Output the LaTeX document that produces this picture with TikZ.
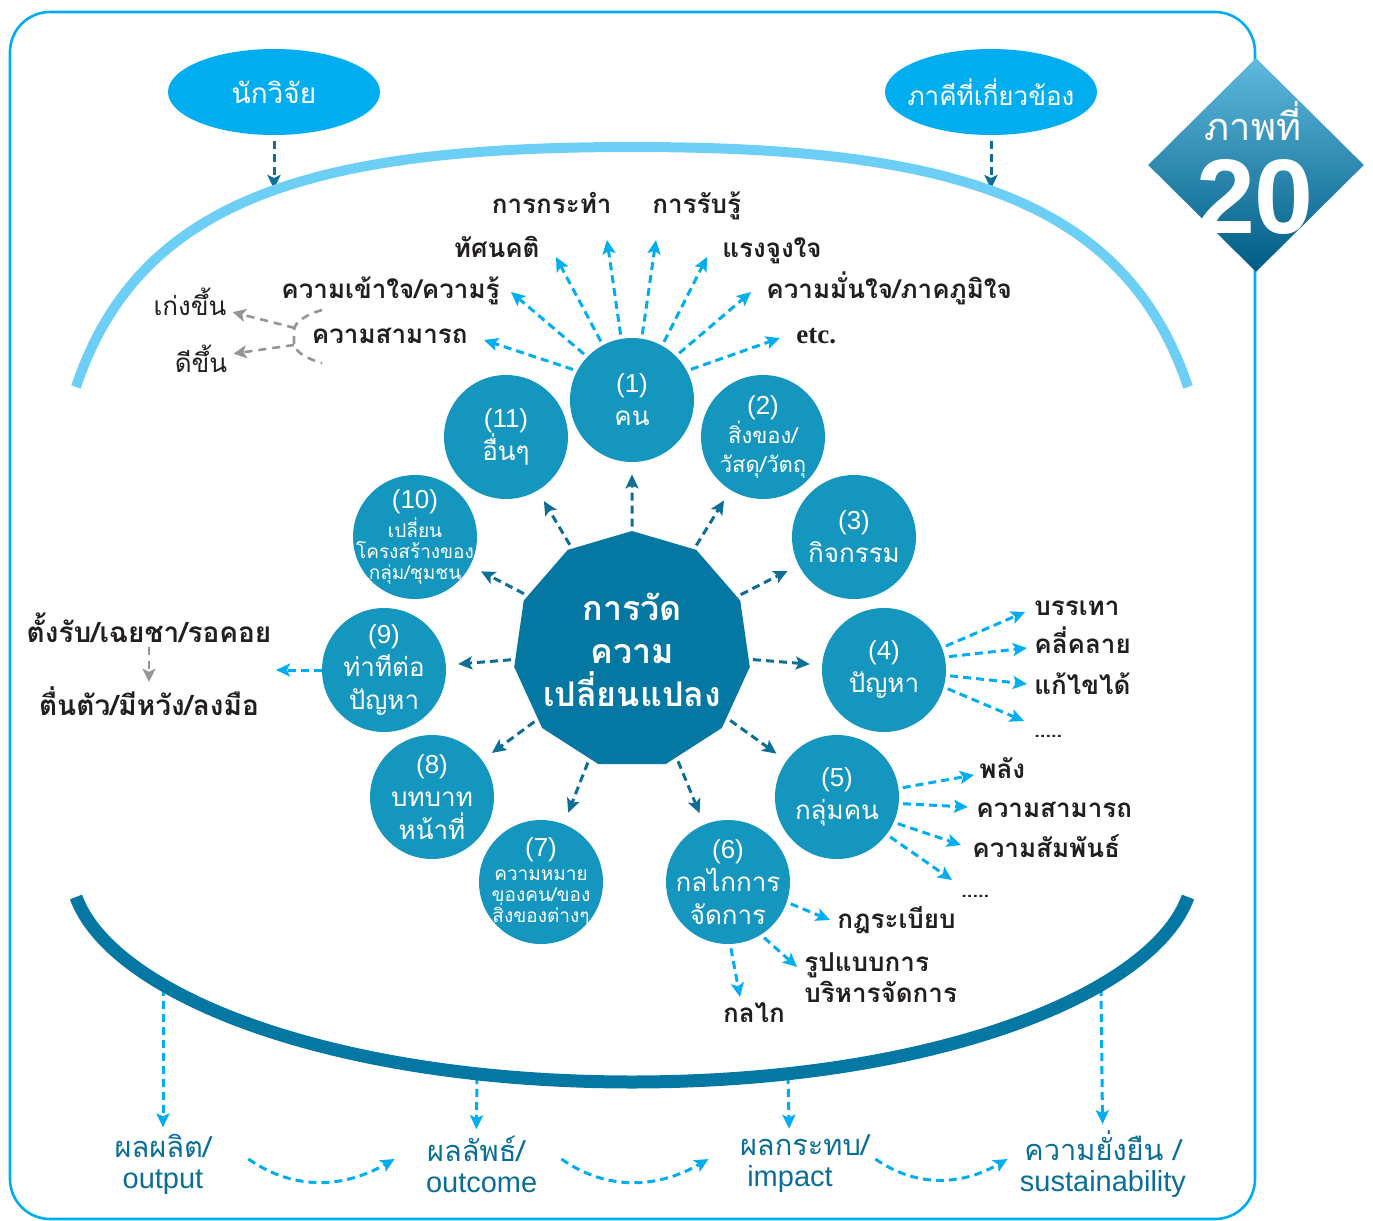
\documentclass[tikz,border=0pt]{standalone}
\usepackage{fontspec}
\usepackage{xcolor}
\usepackage{tikz}
\usetikzlibrary{shapes.geometric, arrows.meta}

\newfontfamily\thaifont[Script=Thai]{Loma}
\newfontfamily\numfont{Liberation Sans}
\newfontfamily\etcfont{Liberation Serif}

\definecolor{frameblue}{RGB}{0,174,239}
\definecolor{skyarc}{RGB}{109,207,246}
\definecolor{bubbleblue}{RGB}{20,150,190}
\definecolor{hubblue}{RGB}{4,119,163}
\definecolor{darkarrow}{RGB}{14,110,150}
\definecolor{cyanarrow}{RGB}{0,174,239}
\definecolor{labelink}{RGB}{35,31,32}
\definecolor{softgray}{RGB}{147,149,152}
\definecolor{resultteal}{RGB}{10,110,150}
\definecolor{diamondtop}{RGB}{95,185,222}
\definecolor{diamondmid}{RGB}{8,138,186}
\definecolor{diamondbot}{RGB}{0,92,132}

\begin{document}
\begin{tikzpicture}[x=0.5pt, y=-0.5pt,
    bubble/.style={circle, fill=bubbleblue, text=white, minimum size=62pt, inner sep=-8pt, align=center, font=\thaifont\fontsize{13}{16.5}\selectfont},
    hubshape/.style={regular polygon, regular polygon sides=11, fill=hubblue, text=white, minimum size=119pt, inner sep=-14pt, align=center, font=\thaifont\bfseries\fontsize{17}{21.5}\selectfont},
    party/.style={ellipse, fill=frameblue, text=white, minimum width=106pt, minimum height=43pt, inner xsep=-6pt, inner ysep=0pt, font=\thaifont\fontsize{14}{17}\selectfont},
    lab/.style={text=labelink, inner sep=0pt, anchor=base, font=\thaifont\bfseries\fontsize{13}{15.5}\selectfont},
    softlab/.style={text=labelink, inner sep=0pt, anchor=base, font=\thaifont\fontsize{13}{16}\selectfont},
    result/.style={text=resultteal, inner sep=0pt, align=center, text width=50pt, font=\thaifont\fontsize{14.5}{15.5}\selectfont},
    darr/.style={darkarrow, line width=1.5pt, dash pattern=on 4pt off 2.5pt, -{Stealth[length=7pt, width=6.5pt, inset=1.5pt]}},
    carr/.style={cyanarrow, line width=1.5pt, dash pattern=on 4pt off 2.5pt, -{Stealth[length=7pt, width=6.5pt, inset=1.5pt]}},
    garr/.style={softgray, line width=1.3pt, dash pattern=on 4pt off 3pt, -{Stealth[length=6.5pt, width=6.5pt, inset=1.5pt]}},
]
    \useasboundingbox (0,0) rectangle (1373,1221);

    % frame and figure badge
    \draw[frameblue, line width=1.3pt, rounded corners=20pt] (10,12) rectangle (1255,1219);
    \node[diamond, minimum width=108pt, minimum height=107pt, inner sep=0pt, top color=diamondtop, middle color=diamondmid, bottom color=diamondbot] (badge) at (1256,165) {};
    \node[text=white, inner sep=0pt, anchor=base, font=\thaifont\fontsize{19}{20}\selectfont] (badgeword) at (1253,140) {ภาพที่};
    \node[text=white, inner sep=0pt, anchor=base, font=\numfont\bfseries\fontsize{53}{53}\selectfont] (badgenum) at (1255,233) {20};

    % researcher and partners
    \node[party] (res) at (274,92) {นักวิจัย};
    \node[party, font=\thaifont\fontsize{13}{16}\selectfont] (partner) at (991,92) {ภาคีที่เกี่ยวข้อง};
    \coordinate (resin) at (274,189);
    \coordinate (partnerin) at (991,189);
    \draw[darr, shorten <=3pt] (res) -- (resin);
    \draw[darr, shorten <=3pt] (partner) -- (partnerin);

    % arrows down to the results (start hidden under the lower arc)
    \coordinate (arcA) at (163,988);
    \coordinate (arcB) at (477,1076);
    \coordinate (arcC) at (788,1076);
    \coordinate (arcD) at (1101,988);
    \node[result] (output) at (163,1164) {ผลผลิต/\\{\numfont output}};
    \node[result] (outcome) at (476,1164) {ผลลัพธ์/\\{\numfont outcome}};
    \node[result] (impact) at (790,1164) {ผลกระทบ/\\{\numfont impact}};
    \node[result, text width=90pt] (sustain) at (1103,1164) {ความยั่งยืน /\\{\numfont sustainability}};
    \draw[carr, shorten >=3pt] (arcA) -- (output);
    \draw[carr, shorten >=3pt] (arcB) -- (outcome);
    \draw[carr, shorten >=3pt] (arcC) -- (impact);
    \draw[carr, shorten >=3pt] (arcD) -- (sustain);
    \draw[carr] ([xshift=17.5pt, yshift=2.5pt]output.east) to[out=-35, in=210] ([xshift=-15.5pt, yshift=2.5pt]outcome.west);
    \draw[carr] ([xshift=17.5pt, yshift=2.5pt]outcome.east) to[out=-35, in=210] ([xshift=-15.5pt, yshift=2.5pt]impact.west);
    \draw[carr] ([xshift=17.5pt, yshift=2.5pt]impact.east) to[out=-35, in=210] ([xshift=-2.5pt, yshift=2.5pt]sustain.west);

    % the two arcs
    \draw[skyarc, line width=5pt] (76,387) .. controls (140,195) and (320,147) .. (632,147) .. controls (944,147) and (1124,195) .. (1188,387);
    \draw[hubblue, line width=6.5pt] (76,897) .. controls (111,994) and (330,1082) .. (632,1082) .. controls (934,1082) and (1153,994) .. (1188,897);

    % hub and its eleven bubbles
    \node[hubshape] (change) at (632,650) {การวัด\\ความ\\เปลี่ยนแปลง};
    \node[bubble] (c1) at (632,400) {{\numfont (1)}\\คน};
    \node[bubble, font=\thaifont\fontsize{11}{14.5}\selectfont] (c2) at (763,437) {{\numfont\fontsize{13}{14}\selectfont (2)}\\สิ่งของ/\\วัสดุ/วัตถุ};
    \node[bubble] (c3) at (854,537) {{\numfont (3)}\\กิจกรรม};
    \node[bubble] (c4) at (884,670) {{\numfont (4)}\\ปัญหา};
    \node[bubble] (c5) at (837,797) {{\numfont (5)}\\กลุ่มคน};
    \node[bubble] (c6) at (728,882) {{\numfont (6)}\\กลไกการ\\จัดการ};
    \node[bubble, font=\thaifont\fontsize{9.5}{10.5}\selectfont] (c7) at (541,882) {{\numfont\fontsize{13}{14}\selectfont (7)}\\[1.5pt]ความหมาย\\ของคน/ของ\\สิ่งของต่างๆ};
    \node[bubble] (c8) at (432,797) {{\numfont (8)}\\บทบาท\\หน้าที่};
    \node[bubble] (c9) at (384,670) {{\numfont (9)}\\ท่าทีต่อ\\ปัญหา};
    \node[bubble, font=\thaifont\fontsize{9.5}{10.5}\selectfont] (c10) at (415,537) {{\numfont\fontsize{13}{14}\selectfont (10)}\\[1pt]เปลี่ยน\\โครงสร้างของ\\กลุ่ม/ชุมชน};
    \node[bubble] (c11) at (506,437) {{\numfont (11)}\\อื่นๆ};

    \draw[darr, shorten <=2pt, shorten >=6pt] (change) -- (c1);
    \draw[darr, shorten <=2pt, shorten >=6pt] (change) -- (c2);
    \draw[darr, shorten <=2pt, shorten >=6pt] (change) -- (c3);
    \draw[darr, shorten <=2pt, shorten >=6pt] (change) -- (c4);
    \draw[darr, shorten <=2pt, shorten >=6pt] (change) -- (c5);
    \draw[darr, shorten <=2pt, shorten >=6pt] (change) -- (c6);
    \draw[darr, shorten <=2pt, shorten >=6pt] (change) -- (c7);
    \draw[darr, shorten <=2pt, shorten >=6pt] (change) -- (c8);
    \draw[darr, shorten <=2pt, shorten >=6pt] (change) -- (c9);
    \draw[darr, shorten <=2pt, shorten >=6pt] (change) -- (c10);
    \draw[darr, shorten <=2pt, shorten >=6pt] (change) -- (c11);

    % what changes in people (1)
    \node[lab, anchor=base east] (action) at (612,213) {การกระทำ};
    \node[lab, anchor=base west] (perceive) at (652,213) {การรับรู้};
    \node[lab, anchor=base east] (attitude) at (540,257) {ทัศนคติ};
    \node[lab, anchor=base west] (motive) at (722,257) {แรงจูงใจ};
    \node[lab, anchor=base east] (knowledge) at (500,298) {ความเข้าใจ/ความรู้};
    \node[lab, anchor=base west] (pride) at (766,298) {ความมั่นใจ/ภาคภูมิใจ};
    \node[lab, anchor=base east] (skill) at (468,343) {ความสามารถ};
    \node[lab, anchor=base west, font=\etcfont\bfseries\fontsize{13.5}{16}\selectfont] (etc) at (796,343) {etc.};
    \coordinate (tipSkill) at (484,340);
    \coordinate (tipKnow) at (511,292);
    \coordinate (tipAtt) at (556,257);
    \coordinate (tipAct) at (607,240);
    \coordinate (tipPerc) at (656,240);
    \coordinate (tipMot) at (707,257);
    \coordinate (tipPride) at (751,292);
    \coordinate (tipEtc) at (780,338);
    \draw[carr, shorten <=2pt] (c1.152) -- (tipSkill);
    \draw[carr, shorten <=2pt] (c1.136) -- (tipKnow);
    \draw[carr, shorten <=2pt] (c1.118) -- (tipAtt);
    \draw[carr, shorten <=2pt] (c1.100) -- (tipAct);
    \draw[carr, shorten <=2pt] (c1.81) -- (tipPerc);
    \draw[carr, shorten <=2pt] (c1.61) -- (tipMot);
    \draw[carr, shorten <=2pt] (c1.45) -- (tipPride);
    \draw[carr, shorten <=2pt] (c1.28) -- (tipEtc);

    % skill gets better
    \node[softlab] (better) at (190,315) {เก่งขึ้น};
    \node[softlab] (good) at (201,372) {ดีขึ้น};
    \draw[softgray, line width=1.3pt, dash pattern=on 4pt off 3pt] (322,310) .. controls (305,315) and (295,322) .. (294,330) -- (294,343) .. controls (295,352) and (305,358) .. (322,363);
    \coordinate (forkA) at (295,328);
    \coordinate (forkB) at (294,345);
    \draw[garr, shorten >=3pt] (forkA) -- (better);
    \draw[garr, shorten >=3pt] (forkB) -- (good);

    % problem (4)
    \node[lab, anchor=base west] (ease) at (1034,615) {บรรเทา};
    \node[lab, anchor=base west] (unravel) at (1034,653) {คลี่คลาย};
    \node[lab, anchor=base west] (solved) at (1034,694) {แก้ไขได้};
    \node[lab, anchor=base west, font=\thaifont\bfseries\fontsize{10}{12}\selectfont] (moreA) at (1034,737) {.....};
    \coordinate (tipEase) at (1025,612);
    \coordinate (tipUnravel) at (1027,648);
    \coordinate (tipSolved) at (1027,684);
    \coordinate (tipMoreA) at (1024,721);
    \draw[carr, shorten <=2pt] (c4.21) -- (tipEase);
    \draw[carr, shorten <=2pt] (c4.12) -- (tipUnravel);
    \draw[carr, shorten <=2pt] (c4.-5) -- (tipSolved);
    \draw[carr, shorten <=2pt] (c4.-16) -- (tipMoreA);

    % group (5)
    \node[lab, anchor=base west] (power) at (979,778) {พลัง};
    \node[lab, anchor=base west] (ability) at (976,817) {ความสามารถ};
    \node[lab, anchor=base west] (bond) at (972,857) {ความสัมพันธ์};
    \node[lab, anchor=base west, font=\thaifont\bfseries\fontsize{10}{12}\selectfont] (moreB) at (961,897) {.....};
    \coordinate (tipPower) at (974,775);
    \coordinate (tipAbility) at (968,807);
    \coordinate (tipBond) at (961,845);
    \coordinate (tipMoreB) at (952,880);
    \draw[carr, shorten <=2pt] (c5.8) -- (tipPower);
    \draw[carr, shorten <=2pt] (c5.-6) -- (tipAbility);
    \draw[carr, shorten <=2pt] (c5.-24) -- (tipBond);
    \draw[carr, shorten <=2pt] (c5.-37) -- (tipMoreB);

    % mechanism (6)
    \node[lab, anchor=base west] (rules) at (837,928) {กฎระเบียบ};
    \node[lab, anchor=north west, align=left, font=\thaifont\bfseries\fontsize{13}{15.5}\selectfont] (admin) at (804,952) {รูปแบบการ\\บริหารจัดการ};
    \node[lab] (mech) at (754,1022) {กลไก};
    \coordinate (tipRules) at (830,920);
    \coordinate (tipAdmin) at (797,967);
    \coordinate (tipMech) at (740,997);
    \draw[carr, shorten <=2pt] (c6.-19) -- (tipRules);
    \draw[carr, shorten <=2pt] (c6.-58) -- (tipAdmin);
    \draw[carr, shorten <=2pt] (c6.-88) -- (tipMech);

    % stance (9)
    \node[lab, font=\thaifont\bfseries\fontsize{14}{17}\selectfont] (passive) at (149,642) {ตั้งรับ/เฉยชา/รอคอย};
    \node[lab, font=\thaifont\bfseries\fontsize{14}{17}\selectfont] (active) at (149,715) {ตื่นตัว/มีหวัง/ลงมือ};
    \coordinate (tipStance) at (276,670);
    \draw[carr] (c9.west) -- (tipStance);
    \draw[garr, shorten <=2pt, shorten >=2pt] (passive) -- (active);
\end{tikzpicture}
\end{document}
